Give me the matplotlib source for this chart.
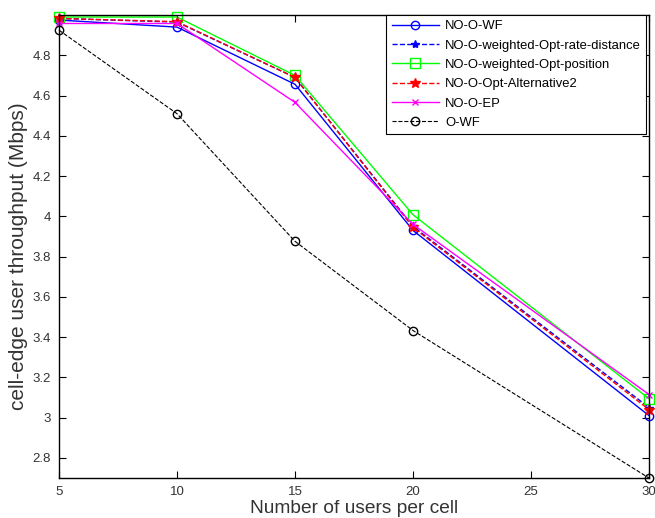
import matplotlib.pyplot as plt
from matplotlib.ticker import FuncFormatter

plt.rcParams['font.family'] = ['Liberation Sans', 'DejaVu Sans']

# Number of users per cell
users = [5, 10, 15, 20, 30]

# cell-edge user throughput (Mbps) for each scheme
no_o_wf = [4.975, 4.94, 4.656, 3.93, 3.01]
rate_distance = [4.983, 4.965, 4.69, 3.95, 3.05]
opt_position = [4.99, 4.99, 4.70, 4.008, 3.094]
alternative2 = [4.983, 4.967, 4.69, 3.945, 3.04]
no_o_ep = [4.958, 4.958, 4.566, 3.96, 3.115]
o_wf = [4.925, 4.51, 3.876, 3.433, 2.70]

labels = ['NO-O-WF', 'NO-O-weighted-Opt-rate-distance',
          'NO-O-weighted-Opt-position', 'NO-O-Opt-Alternative2',
          'NO-O-EP', 'O-WF']

fig = plt.figure(figsize=(6.55, 5.18), dpi=100)
ax = fig.add_axes([0.090, 0.077, 0.901, 0.894])

kw = dict(lw=1, clip_on=False)
ax.plot(users, no_o_wf, '-', color='blue', marker='o', mfc='none', ms=6, label=labels[0], **kw)
ax.plot(users, rate_distance, '--', color='blue', marker='*', ms=6, label=labels[1], **kw)
ax.plot(users, opt_position, '-', color='#00ff00', marker='s', mfc='none', ms=7, label=labels[2], **kw)
ax.plot(users, alternative2, '--', color='red', marker='*', ms=7, label=labels[3], **kw)
ax.plot(users, no_o_ep, '-', color='magenta', marker='x', ms=5, label=labels[4], **kw)
ax.plot(users, o_wf, '--', color='black', marker='o', mfc='none', ms=6, lw=0.8,
        clip_on=False, label=labels[5])

ax.set_xlim(5, 30)
ax.set_ylim(2.7, 5.0)
ax.set_xticks([5, 10, 15, 20, 25, 30])
ax.set_yticks([2.8, 3.0, 3.2, 3.4, 3.6, 3.8, 4.0, 4.2, 4.4, 4.6, 4.8])
ax.yaxis.set_major_formatter(FuncFormatter(lambda v, p: ('%g' % round(v, 1))))
ax.tick_params(direction='in', length=5, top=True, right=True, labelsize=9.5,
               labelcolor='#333333', pad=6)
for s in ax.spines.values():
    s.set_linewidth(1.0)

ax.set_xlabel('Number of users per cell', fontsize=13.8, color='#333333', labelpad=1)
ax.set_ylabel('cell-edge user throughput (Mbps)', fontsize=15, color='#333333')
ax.yaxis.set_label_coords(-0.052, 0.48)

leg = ax.legend(loc='upper right', bbox_to_anchor=(0.995, 1.0), fontsize=9.4,
                fancybox=False, framealpha=1, edgecolor='black',
                handlelength=3.6, borderaxespad=0, labelspacing=0.55,
                handletextpad=0.5)
leg.get_frame().set_linewidth(0.8)
leg.set_zorder(5)

fig.savefig('out.png', dpi=100)
